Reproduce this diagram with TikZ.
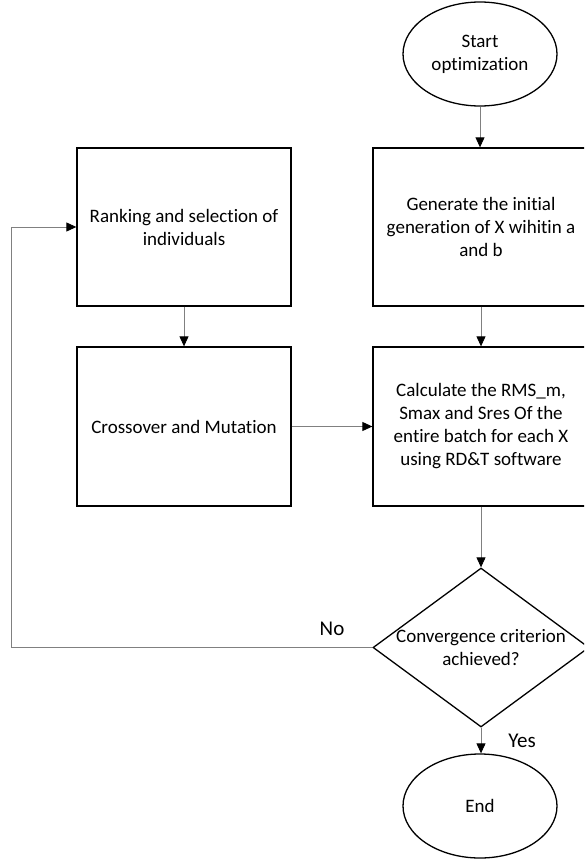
\documentclass[tikz,border=0pt]{standalone}
\usepackage{fontspec}
\setmainfont{Carlito}[Ligatures={NoCommon}]
\usetikzlibrary{shapes.geometric,arrows.meta}
\tikzset{
  shapebox/.style={draw=black,line width=1.3pt,rectangle,inner sep=0pt,minimum width=214pt,minimum height=158pt,align=center,font=\fontsize{19}{23}\selectfont},
  oval/.style={draw=black,line width=1.3pt,ellipse,inner sep=0pt,minimum width=154pt,minimum height=104pt,align=center,font=\fontsize{19}{23}\selectfont},
  txt/.style={inner sep=0pt,align=center,font=\fontsize{19}{23}\selectfont},
  conn/.style={draw=black!50,line width=0.9pt,-{Triangle[width=9pt,length=10pt,fill=black,color=black]}},
  plain/.style={draw=black!50,line width=0.9pt}
}
\begin{document}
\begin{tikzpicture}[x=1pt,y=-1pt]
\useasboundingbox (0,0) rectangle (584,861);
\clip (0,0) rectangle (584,861);
\node[oval] (start) at (480,54) {Start\\optimization};
\node[shapebox] (rank) at (184,227) {Ranking and selection of\\individuals};
\node[shapebox,minimum width=216pt] (gen) at (481,227) {Generate the initial\\generation of X wihitin a\\and b};
\node[shapebox,minimum height=159pt] (cross) at (184,426.5) {Crossover and Mutation};
\node[shapebox,minimum width=216pt,minimum height=159pt] (calc) at (481,426.5) {Calculate the RMS\_m,\\Smax and Sres Of the\\entire batch for each X\\using RD\&T software};
\node[draw=black,line width=1.3pt,diamond,inner sep=0pt,minimum width=216pt,minimum height=159pt] (dia) at (481,647.5) {};
\node[txt] (diatext) at (481,648) {Convergence criterion\\achieved?};
\node[oval] (end) at (480,806) {End};
\node[txt,font=\fontsize{21}{23}\selectfont] (no) at (332,629) {No};
\node[txt,font=\fontsize{21}{23}\selectfont] (yes) at (522,741) {Yes};
\coordinate (fb) at (11,647.5);
\draw[conn] (start) -- (start|-gen.north);
\draw[conn] (gen) -- (calc);
\draw[conn] (rank) -- (cross);
\draw[conn] (cross) -- (calc);
\draw[conn] (calc.south-|dia.north) -- (dia.north);
\draw[conn] (dia.south) -- (end.north-|dia.south);
\draw[conn] (dia.west) -- (fb) |- (rank.west);
\end{tikzpicture}
\end{document}
